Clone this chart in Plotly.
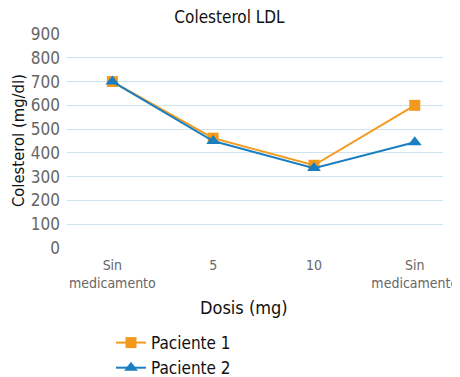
import plotly.graph_objects as go

categories = ["Sin<br>medicamento", "5", "10", "Sin<br>medicamento"]
x_index = [0, 1, 2, 3]
paciente1 = [700, 462, 348, 600]
paciente2 = [700, 450, 336, 445]
y_ticks = [0, 100, 200, 300, 400, 500, 600, 700, 800, 900]

FONT = "DejaVu Sans Condensed, Liberation Sans Narrow, Roboto, sans-serif"
ORANGE = "#F39A1E"
BLUE = "#1B7EC0"

fig = go.Figure()
fig.add_trace(go.Scatter(
    x=x_index, y=paciente1, name="Paciente 1", mode="lines+markers",
    line=dict(color=ORANGE, width=2),
    marker=dict(symbol="square", size=11, color=ORANGE),
))
fig.add_trace(go.Scatter(
    x=x_index, y=paciente2, name="Paciente 2", mode="lines+markers",
    line=dict(color=BLUE, width=2),
    marker=dict(symbol="triangle-up", size=12, color=BLUE),
))

fig.update_layout(
    width=452, height=369,
    margin=dict(l=59, r=17, t=26, b=129, autoexpand=False),
    paper_bgcolor="white", plot_bgcolor="white",
    font=dict(family=FONT, size=16, color="#222"),
    title=dict(text="Colesterol LDL", x=0.49, xanchor="center", y=0.975, yanchor="middle",
               font=dict(family=FONT, size=17, color="#111")),
    showlegend=True,
    legend=dict(x=0.117, xanchor="left", y=-0.36, yanchor="top",
                font=dict(family=FONT, size=17, color="#111"),
                tracegroupgap=0, itemwidth=30),
    xaxis=dict(
        range=[-0.45, 3.28], tickmode="array", tickvals=x_index, ticktext=categories,
        showgrid=False, zeroline=False, showline=False, ticks="", automargin=False,
        ticklabeloverflow="allow", ticklabelstandoff=7,
        tickfont=dict(family=FONT, size=14, color="#666"),
    ),
    yaxis=dict(
        range=[0, 900], tickmode="array", tickvals=y_ticks, automargin=False,
        showgrid=True, gridcolor="#CFE3EE", gridwidth=1, zeroline=False,
        showline=False, ticks="", ticklabelstandoff=6,
        tickfont=dict(family=FONT, size=17, color="#666"),
    ),
    annotations=[
        dict(text="Colesterol (mg/dl)", xref="paper", yref="paper", x=-0.13, y=0.5,
             textangle=-90, showarrow=False, xanchor="center", yanchor="middle",
             font=dict(family=FONT, size=16.5, color="#111")),
        dict(text="Dosis (mg)", xref="paper", yref="paper", x=0.47, y=-0.28,
             showarrow=False, xanchor="center", yanchor="middle",
             font=dict(family=FONT, size=18, color="#111")),
    ],
)

fig.write_html("out.html")
